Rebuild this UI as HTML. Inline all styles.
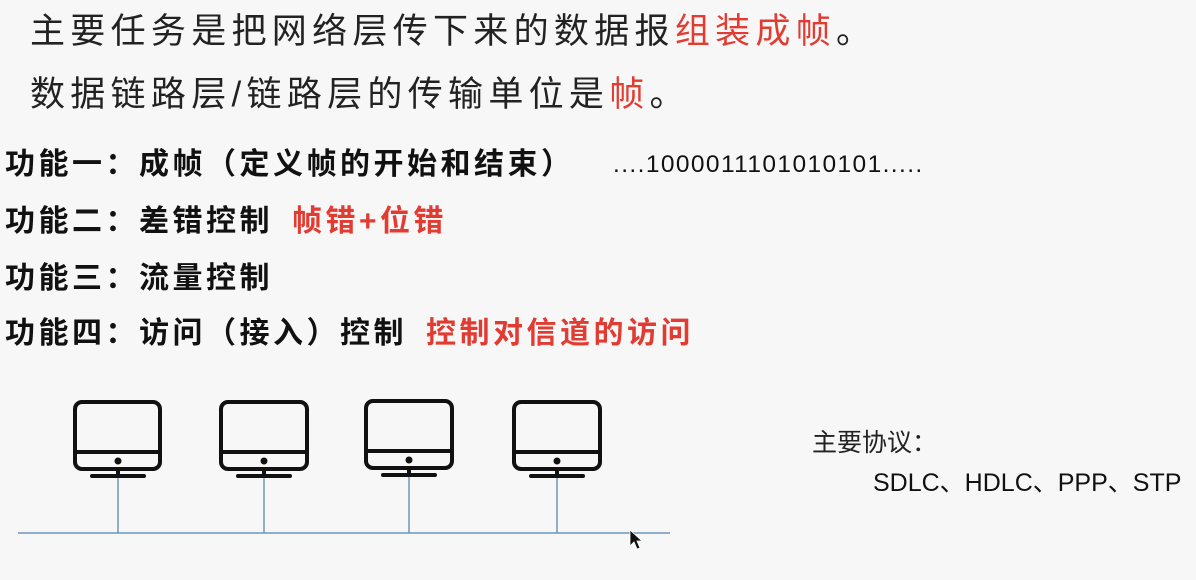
<!DOCTYPE html>
<html><head><meta charset="utf-8"><style>
body{margin:0;width:1196px;height:580px;background:#f7f7f7;overflow:hidden;position:relative;font-family:"Liberation Sans","Noto Sans CJK SC",sans-serif;}
.t{position:absolute;white-space:nowrap;line-height:1;}
.h{font-size:35px;letter-spacing:5.3px;color:#222;}
.f{font-size:30px;letter-spacing:3.5px;font-weight:bold;color:#111;}
.r{color:#e23b32;}
</style></head><body>
<div class="t h" style="left:30px;top:14px">主要任务是把网络层传下来的数据报<span class="r">组装成帧</span>。</div>
<div class="t h" style="left:30px;top:77px">数据链路层/链路层的传输单位是<span class="r">帧</span>。</div>
<div class="t f" style="left:5px;top:150px">功能一：成帧（定义帧的开始和结束）</div>
<div class="t" style="left:613px;top:153px;font-size:24.5px;letter-spacing:1.4px;color:#111">....1000011101010101.....</div>
<div class="t f" style="left:5px;top:207px">功能二：差错控制</div>
<div class="t f r" style="left:292px;top:207px">帧错+位错</div>
<div class="t f" style="left:5px;top:264px">功能三：流量控制</div>
<div class="t f" style="left:5px;top:319px">功能四：访问（接入）控制</div>
<div class="t f r" style="left:426px;top:319px">控制对信道的访问</div>
<div class="t" style="left:812px;top:431px;font-size:25px;color:#222">主要协议：</div>
<div class="t" style="left:873px;top:471px;font-size:25px;color:#111">SDLC、HDLC、PPP、STP</div>
<svg style="position:absolute;left:0;top:0" width="1196" height="580">
<g stroke="#6f96c0" stroke-width="1.5">
<line x1="18" y1="533" x2="670" y2="533"/>
<line x1="118" y1="470" x2="118" y2="533"/>
<line x1="264" y1="470" x2="264" y2="533"/>
<line x1="409" y1="470" x2="409" y2="533"/>
<line x1="557" y1="470" x2="557" y2="533"/>
</g>
<g fill="none" stroke="#111" stroke-width="4">
<rect x="75" y="402" width="85" height="67" rx="7"/><line x1="75" y1="452" x2="160" y2="452"/><line x1="118" y1="469" x2="118" y2="476"/><line x1="92" y1="476" x2="144" y2="476" stroke-linecap="round"/>
<rect x="221" y="402" width="86" height="67" rx="7"/><line x1="221" y1="452" x2="307" y2="452"/><line x1="264" y1="469" x2="264" y2="476"/><line x1="238" y1="476" x2="290" y2="476" stroke-linecap="round"/>
<rect x="366" y="401" width="86" height="67" rx="7"/><line x1="366" y1="451" x2="452" y2="451"/><line x1="409" y1="468" x2="409" y2="475"/><line x1="383" y1="475" x2="435" y2="475" stroke-linecap="round"/>
<rect x="514" y="402" width="86" height="67" rx="7"/><line x1="514" y1="452" x2="600" y2="452"/><line x1="557" y1="469" x2="557" y2="476"/><line x1="531" y1="476" x2="583" y2="476" stroke-linecap="round"/>
</g>
<g fill="#111"><circle cx="118" cy="461" r="3.5"/><circle cx="264" cy="461" r="3.5"/><circle cx="409" cy="460" r="3.5"/><circle cx="557" cy="461" r="3.5"/>
<path d="M630 530 L630 546 L634 542 L637 549 L640 548 L637 541 L642 541 Z" stroke="#fff" stroke-width="0.8"/></g>
</svg>
</body></html>
